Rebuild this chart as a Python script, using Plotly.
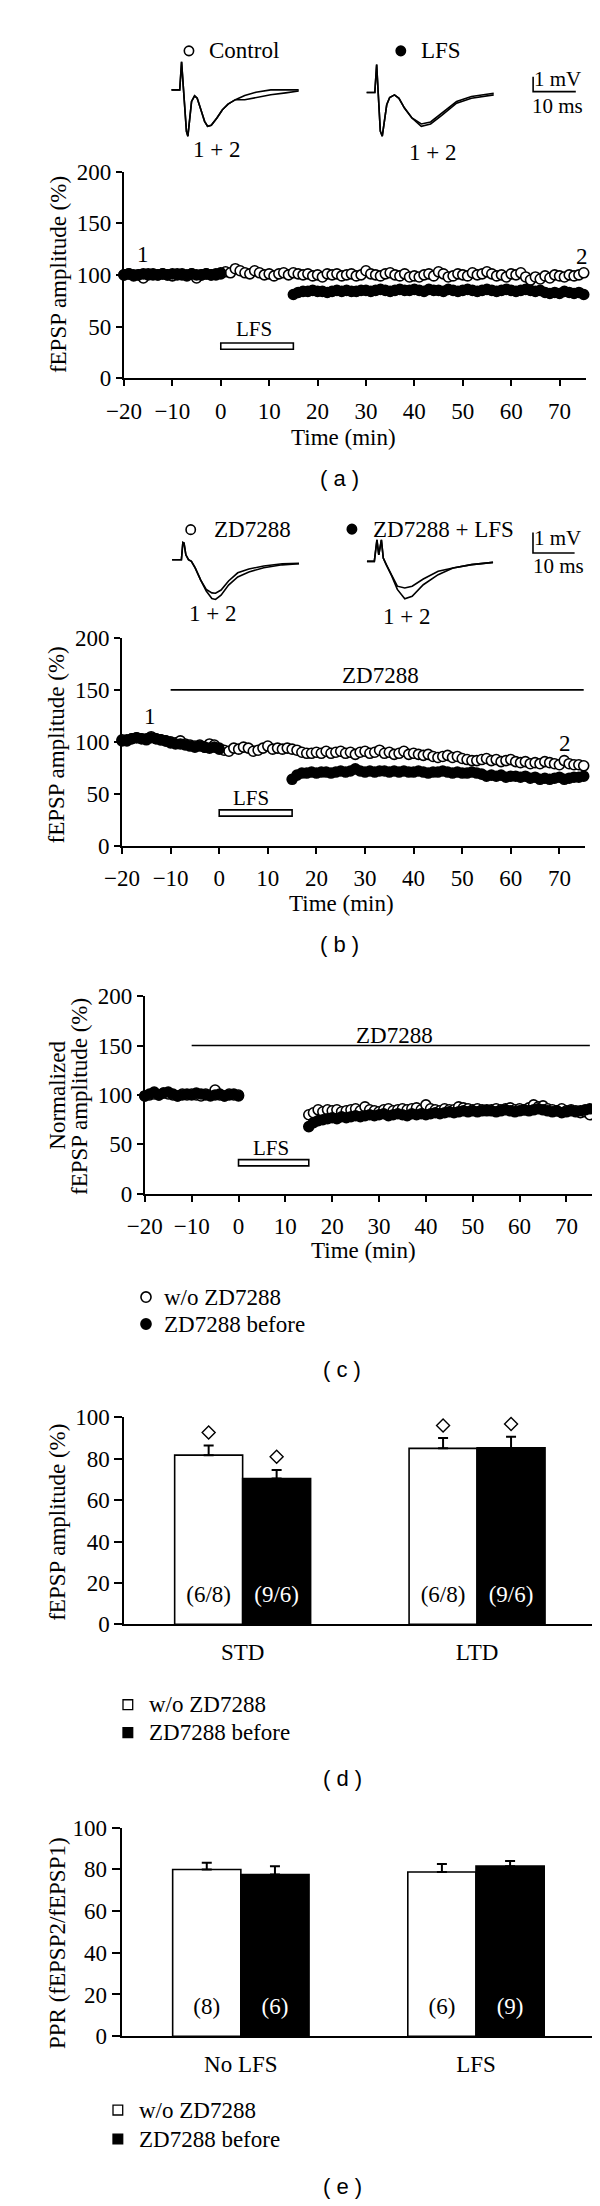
import plotly.graph_objects as go

W, H = 600, 2206
SERIF = "Liberation Serif"
SANS = "Liberation Sans"

# ---------------- data ----------------
TIME_ALL = list(range(-20, 76))      # one sample per minute
TIME_BASE = list(range(-20, 1))
TIME_POST = list(range(15, 76))
LFS_PERIOD = [0, 15]
ZD_PERIOD = [-10, 75]

# (a) Control (open) and LFS (filled)
A_CONTROL = [100, 101, 99, 100, 97, 101, 100, 100, 101, 100,
             99, 101, 100, 99, 101, 97, 100, 101, 100, 100,
             101, 103, 102, 106, 104, 102, 101, 104, 102, 100,
             101, 99, 101, 102, 100, 102, 101, 100, 101, 99,
             100, 98, 101, 100, 101, 99, 100, 101, 99, 100,
             104, 101, 100, 99, 101, 102, 100, 99, 101, 98,
             99, 98, 100, 101, 99, 103, 101, 98, 99, 101,
             100, 99, 102, 100, 101, 103, 101, 99, 100, 98,
             101, 100, 102, 98, 95, 98, 96, 99, 97, 100,
             99, 98, 100, 99, 100, 102]
A_LFS_BASE = [100, 101, 100, 100, 101, 100, 101, 100, 101, 100, 101,
              100, 101, 100, 101, 100, 100, 101, 100, 101, 102]
A_LFS_POST = [81, 83, 84, 84, 85, 84, 84, 83, 84, 85,
              84, 85, 84, 84, 85, 85, 84, 85, 86, 85,
              84, 85, 86, 85, 85, 86, 85, 84, 86, 85,
              85, 84, 86, 85, 84, 85, 86, 85, 84, 85,
              86, 85, 84, 85, 86, 85, 84, 85, 86, 85,
              84, 85, 83, 82, 83, 82, 84, 83, 82, 83,
              81]

# (b) ZD7288 (open) and ZD7288 + LFS (filled)
B_ZD = [102, 101, 103, 104, 103, 102, 105, 103, 102, 101,
        100, 99, 101, 98, 97, 96, 97, 95, 98, 97,
        94, 92, 91, 94, 93, 95, 94, 91, 92, 94,
        96, 93, 94, 93, 94, 93, 92, 90, 89, 89,
        90, 89, 91, 89, 90, 91, 89, 90, 88, 90,
        91, 89, 90, 92, 89, 90, 88, 89, 91, 88,
        89, 88, 87, 88, 86, 85, 86, 87, 85, 86,
        84, 83, 82, 82, 83, 84, 82, 83, 81, 82,
        83, 81, 80, 81, 79, 80, 79, 81, 80, 79,
        78, 82, 79, 78, 78, 77]
B_ZDLFS_BASE = [101, 102, 103, 104, 103, 103, 104, 103, 102, 101, 99,
                98, 98, 97, 96, 95, 96, 95, 94, 95, 93]
B_ZDLFS_POST = [64, 68, 70, 70, 71, 70, 71, 71, 70, 71,
                72, 71, 72, 74, 72, 71, 72, 71, 72, 72,
                71, 72, 71, 72, 71, 71, 72, 71, 70, 71,
                71, 72, 71, 70, 71, 70, 70, 71, 70, 69,
                67, 68, 67, 68, 66, 67, 67, 66, 67, 65,
                66, 64, 65, 64, 65, 66, 64, 65, 66, 66,
                67]

# (c) w/o ZD7288 (open) and ZD7288 before (filled)
C_WO_BASE = [99, 100, 101, 100, 102, 101, 100, 99, 101, 100, 101,
             100, 99, 101, 100, 105, 100, 99, 101, 100, 100]
C_WO_POST = [80, 82, 85, 83, 85, 84, 85, 83, 84, 85,
             86, 84, 88, 85, 84, 83, 85, 86, 84, 85,
             86, 85, 86, 87, 85, 90, 86, 85, 84, 86,
             85, 85, 88, 87, 86, 85, 86, 85, 84, 85,
             86, 85, 86, 87, 85, 86, 85, 87, 90, 88,
             89, 86, 85, 84, 86, 84, 85, 84, 82, 83,
             80]
C_ZD_BASE = [99, 101, 103, 100, 102, 103, 101, 99, 100, 101, 100,
             102, 101, 100, 99, 100, 101, 99, 100, 101, 99]
C_ZD_POST = [68, 72, 74, 75, 76, 77, 76, 78, 77, 78,
             79, 78, 79, 80, 79, 80, 81, 79, 80, 81,
             80, 79, 81, 80, 81, 80, 81, 82, 81, 82,
             83, 82, 83, 84, 83, 84, 83, 84, 85, 84,
             83, 84, 85, 84, 83, 84, 85, 84, 85, 86,
             85, 84, 83, 84, 82, 83, 84, 83, 84, 85,
             86]

# sample fEPSP recordings (ms, mV relative to baseline); 1 = before, 2 = end
A_TR1_T = [0, 1.93, 2.36, 2.89, 3.5, 3.84, 4.18, 4.7, 5.41, 6.02, 6.89, 7.75,
           8.45, 9.32, 10.64, 11.93, 13.25, 14.98, 17.16, 19.77, 23.25, 26.75, 29.8]
A_TR1_V1 = [0, 0, 1.89, -0.56, -2.79, -3.12, -2.34, -0.78, -0.4, -0.56, -1.34, -2.12,
            -2.45, -2.39, -1.89, -1.34, -0.96, -0.66, -0.38, -0.16, 0, 0.02, 0]
A_TR1_V2 = [0, 0, 1.89, -0.56, -2.79, -3.12, -2.34, -0.78, -0.4, -0.56, -1.34, -2.12,
            -2.45, -2.39, -1.89, -1.34, -0.96, -0.66, -0.66, -0.51, -0.33, -0.2, -0.07]
A_TR2_T = [0, 1.91, 2.34, 2.77, 3.2, 3.66, 4.09, 4.7, 5.39, 6.52, 7.57, 8.86,
           10.61, 12.8, 14.98, 17.59, 21.07, 24.55, 29.77]
A_TR2_V1 = [0, 0, 1.89, -0.61, -2.61, -2.95, -2.17, -0.83, -0.34, -0.16, -0.39, -1.05,
            -1.72, -2.28, -2.12, -1.55, -0.72, -0.39, -0.16]
A_TR2_V2 = [0, 0, 1.89, -0.61, -2.61, -2.95, -2.17, -0.83, -0.34, -0.16, -0.39, -1.05,
            -1.72, -2.12, -1.99, -1.39, -0.61, -0.27, -0.05]
B_TR1_T = [0, 2.24, 2.59, 2.87, 3.31, 3.94, 4.64, 5.55, 6.88, 8.21, 9.56, 10.44,
           11.77, 13.57, 15.78, 18.46, 22.03, 26.48, 30.51]
B_TR1_V1 = [0, 0, 0.84, 0.81, 0.24, 0, -0.08, -0.40, -1.0, -1.53, -1.90, -1.94,
            -1.73, -1.24, -0.84, -0.60, -0.39, -0.25, -0.20]
B_TR1_V2 = [0, 0, 0.84, 0.81, 0.24, 0, -0.08, -0.40, -1.0, -1.45, -1.62, -1.64,
            -1.48, -1.04, -0.64, -0.45, -0.31, -0.20, -0.18]
B_TR2_T = [0, 1.77, 2.40, 2.84, 3.47, 3.92, 4.64, 5.97, 7.30, 9.09, 10.86, 13.54,
           17.11, 20.68, 25.13, 30.30]
B_TR2_V1 = [0, 0, 1.05, 0.32, 1.05, 0.16, -0.16, -0.72, -1.37, -1.83, -1.70, -1.14,
            -0.65, -0.32, -0.16, -0.05]
B_TR2_V2 = [0, 0, 1.05, 0.32, 1.05, 0.16, -0.16, -0.72, -1.21, -1.30, -1.21, -0.86,
            -0.48, -0.32, -0.16, -0.05]
SCALE_MS = 10
SCALE_MV = 1

# (d) depression summary
D_GROUPS = ["STD", "LTD"]
D_CTRL = [81.7, 85.0]
D_CTRL_ERR = [4.7, 5.0]
D_ZD = [70.4, 85.2]
D_ZD_ERR = [4.1, 5.4]
D_CTRL_SIG = [92.7, 96.0]
D_ZD_SIG = [80.9, 96.8]
D_CTRL_N = ["(6/8)", "(6/8)"]
D_ZD_N = ["(9/6)", "(9/6)"]

# (e) paired-pulse ratio
E_GROUPS = ["No LFS", "LFS"]
E_CTRL = [79.9, 78.7]
E_CTRL_ERR = [3.2, 3.8]
E_ZD = [77.5, 81.5]
E_ZD_ERR = [4.0, 2.5]
E_CTRL_N = ["(8)", "(6)"]
E_ZD_N = ["(6)", "(9)"]

# ---------------- layout helpers ----------------
def dx(l, r):
    return [l / W, r / W]


def dy(t, b):
    return [1 - b / H, 1 - t / H]


FS_TICK = 23
FS_TEXT = 23
FS_PANEL = 22
TICKFONT = dict(family=SERIF, size=FS_TICK, color="black")
AX = dict(showline=True, linecolor="black", linewidth=2, ticks="outside", ticklen=6,
          tickwidth=2, tickcolor="black", showgrid=False, zeroline=False,
          tickfont=TICKFONT, fixedrange=True)

fig = go.Figure()
layout = {}
annotations = []
shapes = []


def ann(text, xp, yp, size=FS_TEXT, family=SERIF, xanchor="center", angle=0, color="black"):
    annotations.append(dict(text=text, x=xp / W, y=1 - yp / H, xref="paper", yref="paper",
                            xanchor=xanchor, yanchor="middle", showarrow=False,
                            textangle=angle, font=dict(family=family, size=size, color=color)))


def paper_circle(xp, yp, r, filled):
    shapes.append(dict(type="circle", xref="paper", yref="paper",
                       x0=(xp - r) / W, x1=(xp + r) / W, y0=1 - (yp + r) / H, y1=1 - (yp - r) / H,
                       line=dict(color="black", width=1.6),
                       fillcolor="black" if filled else "white"))


def paper_square(xp, yp, r, filled):
    shapes.append(dict(type="rect", xref="paper", yref="paper",
                       x0=(xp - r) / W, x1=(xp + r) / W, y0=1 - (yp + r) / H, y1=1 - (yp - r) / H,
                       line=dict(color="black", width=1.3),
                       fillcolor="black" if filled else "white"))


def time_axes(xname, yname, xl, xr, yt, yb, xmax):
    layout[xname] = dict(AX, domain=dx(xl, xr), range=[-20, xmax],
                         anchor=yname.replace("axis", ""),
                         tickvals=list(range(-20, 71, 10)), ticklabelstandoff=5)
    layout[yname] = dict(AX, domain=dy(yt, yb), range=[0, 200],
                         anchor=xname.replace("axis", ""),
                         tickvals=[0, 50, 100, 150, 200])


def series(n, x, y, filled):
    fig.add_trace(go.Scatter(
        x=x, y=y, mode="markers", xaxis=f"x{n}", yaxis=f"y{n}", cliponaxis=False,
        marker=dict(size=10, color="black" if filled else "white",
                    line=dict(color="black", width=1.6)), hoverinfo="skip"))


def lfs_box(n, y0, y1):
    shapes.append(dict(type="rect", xref=f"x{n}", yref=f"y{n}", x0=LFS_PERIOD[0], x1=LFS_PERIOD[1],
                       y0=y0, y1=y1, line=dict(color="black", width=1.6), fillcolor="white"))


def zd_line(n, y):
    shapes.append(dict(type="line", xref=f"x{n}", yref=f"y{n}", x0=ZD_PERIOD[0], x1=ZD_PERIOD[1],
                       y0=y, y1=y, line=dict(color="black", width=1.6)))


def inset(n, x0, y0, ppms, ppmv, box):
    l, t, r, b = box
    layout[f"xaxis{n}"] = dict(visible=False, domain=dx(l, r), anchor=f"y{n}",
                               range=[(l - x0) / ppms, (r - x0) / ppms], fixedrange=True)
    layout[f"yaxis{n}"] = dict(visible=False, domain=dy(t, b), anchor=f"x{n}",
                               range=[(y0 - b) / ppmv, (y0 - t) / ppmv], fixedrange=True)


def rec(n, t, v):
    fig.add_trace(go.Scatter(x=t, y=v, mode="lines", xaxis=f"x{n}", yaxis=f"y{n}",
                             line=dict(color="black", width=1.6), hoverinfo="skip"))


def scale_bar(n, t0, v0):
    shapes.append(dict(type="path", xref=f"x{n}", yref=f"y{n}",
                       path=f"M {t0},{v0 + SCALE_MV} L {t0},{v0} L {t0 + SCALE_MS},{v0}",
                       line=dict(color="black", width=1.6)))


# ---------------- panel (a) ----------------
time_axes("xaxis", "yaxis", 101, 577, 153.3, 362.3, 75.4)
series("", TIME_ALL, A_CONTROL, False)
series("", TIME_BASE + TIME_POST, A_LFS_BASE + A_LFS_POST, True)
lfs_box("", 28, 34)
ann("LFS", 235, 313, size=21)
ann("1", 121, 237)
ann("2", 572.7, 239)
ann("Time (min)", 327, 422)
ann("fEPSP amplitude (%)", 33, 258, angle=-90)
ann("( a )", 323, 464, size=FS_PANEL, family=SANS)

inset(6, 150, 70.7, 4.4, 15, (145, 35, 290, 125))
rec(6, A_TR1_T, A_TR1_V1)
rec(6, A_TR1_T, A_TR1_V2)
inset(7, 351.2, 73.3, 4.4, 15, (345, 35, 578, 125))
rec(7, A_TR2_T, A_TR2_V1)
rec(7, A_TR2_T, A_TR2_V2)
scale_bar(7, 39.0, 0.06)
paper_circle(168, 31.2, 4.8, False)
ann("Control", 187, 31.2, xanchor="left")
paper_circle(386.4, 31.2, 4.8, True)
ann("LFS", 404.8, 31.2, xanchor="left")
ann("1 mV", 548, 59.7, size=21)
ann("10 ms", 548.3, 87.4, size=21)
ann("1 + 2", 196.8, 131)
ann("1 + 2", 419, 134)

# ---------------- panel (b) ----------------
time_axes("xaxis2", "yaxis2", 99, 576.7, 625, 835.3, 75.35)
series(2, TIME_ALL, B_ZD, False)
series(2, TIME_BASE + TIME_POST, B_ZDLFS_BASE + B_ZDLFS_POST, True)
lfs_box(2, 28.6, 34.6)
zd_line(2, 150)
ann("ZD7288", 365, 663.3)
ann("1", 127.7, 704.3)
ann("2", 556, 731.7)
ann("LFS", 232.3, 786.7, size=21)
ann("Time (min)", 325, 894)
ann("fEPSP amplitude (%)", 31.7, 733, angle=-90)
ann("( b )", 323, 935, size=FS_PANEL, family=SANS)

inset(8, 150.6, 545.9, 4.29, 20.7, (145, 505, 290, 595))
rec(8, B_TR1_T, B_TR1_V1)
rec(8, B_TR1_T, B_TR1_V2)
inset(9, 351.5, 547.6, 4.29, 20.7, (345, 505, 578, 595))
rec(9, B_TR2_T, B_TR2_V1)
rec(9, B_TR2_T, B_TR2_V2)
scale_bar(9, 39.9, 0.41)
paper_circle(169.8, 515.5, 4.8, False)
ann("ZD7288", 191.6, 515.5, xanchor="left")
paper_circle(336, 515, 4.8, True)
ann("ZD7288 + LFS", 356, 515, xanchor="left")
ann("1 mV", 548, 524.2, size=21)
ann("10 ms", 549, 551.9, size=21)
ann("1 + 2", 192.7, 600)
ann("1 + 2", 392.4, 603.5)

# ---------------- panel (c) ----------------
time_axes("xaxis3", "yaxis3", 122.5, 583.7, 987.3, 1187.3, 75.5)
series(3, TIME_BASE + TIME_POST, C_WO_BASE + C_WO_POST, False)
series(3, TIME_BASE + TIME_POST, C_ZD_BASE + C_ZD_POST, True)
lfs_box(3, 28.3, 34.6)
zd_line(3, 150)
ann("ZD7288", 380, 1027.3)
ann("LFS", 253, 1140.7, size=21)
ann("Time (min)", 348, 1245)
ann("Normalized", 33, 1088, angle=-90)
ann("fEPSP amplitude (%)", 55, 1089, angle=-90)
paper_circle(123.7, 1291.7, 5.2, False)
ann("w/o ZD7288", 140, 1291.7, xanchor="left")
paper_circle(123.7, 1319, 5.2, True)
ann("ZD7288 before", 140, 1319, xanchor="left")
ann("( c )", 326, 1365, size=FS_PANEL, family=SANS)

# ---------------- bar panels ----------------
BAR_W = 0.29


def bar_panel(n, xl, xr, yt, yb, xrange_, groups, ctrl, ctrl_err, zd, zd_err,
              ctrl_n, zd_n, ctrl_sig=None, zd_sig=None):
    idx = list(range(len(groups)))
    xc = [i - BAR_W / 2 for i in idx]
    xz = [i + BAR_W / 2 for i in idx]
    layout[f"xaxis{n}"] = dict(AX, domain=dx(xl, xr), range=xrange_, anchor=f"y{n}",
                               tickvals=idx, ticktext=groups, ticks="", ticklabelstandoff=6)
    layout[f"yaxis{n}"] = dict(AX, domain=dy(yt, yb), range=[0, 100], anchor=f"x{n}",
                               tickvals=[0, 20, 40, 60, 80, 100], ticklen=8)
    for xs, vals, errs, col in ((xc, ctrl, ctrl_err, "white"), (xz, zd, zd_err, "black")):
        fig.add_trace(go.Bar(
            x=xs, y=vals, width=BAR_W, xaxis=f"x{n}", yaxis=f"y{n}",
            marker=dict(color=col, line=dict(color="black", width=1.6)),
            error_y=dict(type="data", array=errs, arrayminus=[0] * len(errs), symmetric=False,
                         color="black", thickness=2, width=5),
            hoverinfo="skip"))
    fig.add_trace(go.Scatter(x=xc, y=[13.5] * len(idx), mode="text", text=ctrl_n,
                             xaxis=f"x{n}", yaxis=f"y{n}", hoverinfo="skip",
                             textfont=dict(family=SERIF, size=FS_TEXT, color="black")))
    fig.add_trace(go.Scatter(x=xz, y=[13.5] * len(idx), mode="text", text=zd_n,
                             xaxis=f"x{n}", yaxis=f"y{n}", hoverinfo="skip",
                             textfont=dict(family=SERIF, size=FS_TEXT, color="white")))
    if ctrl_sig is not None:
        fig.add_trace(go.Scatter(x=xc + xz, y=ctrl_sig + zd_sig, mode="markers",
                                 xaxis=f"x{n}", yaxis=f"y{n}", hoverinfo="skip", cliponaxis=False,
                                 marker=dict(symbol="diamond-open", size=10, color="black",
                                             line=dict(width=1.4, color="black"))))


bar_panel(4, 101.3, 585.6, 1413.3, 1622.7, [-0.505, 1.499], D_GROUPS, D_CTRL, D_CTRL_ERR,
          D_ZD, D_ZD_ERR, D_CTRL_N, D_ZD_N, D_CTRL_SIG, D_ZD_SIG)
ann("fEPSP amplitude (%)", 33, 1520, angle=-90)
paper_square(105, 1704, 5, False)
ann("w/o ZD7288", 124.5, 1704, xanchor="left")
paper_square(105, 1732.3, 5, True)
ann("ZD7288 before", 124.5, 1732.3, xanchor="left")
ann("( d )", 326, 1778.3, size=FS_PANEL, family=SANS)

bar_panel(5, 98.6, 585.6, 1828.3, 2039.3, [-0.507, 1.502], E_GROUPS, E_CTRL, E_CTRL_ERR,
          E_ZD, E_ZD_ERR, E_CTRL_N, E_ZD_N)
ann("PPR (fEPSP2/fEPSP1)", 33, 1945, angle=-90)
paper_square(94.7, 2114, 5, False)
ann("w/o ZD7288", 114, 2114, xanchor="left")
paper_square(94.7, 2143.3, 5, True)
ann("ZD7288 before", 114, 2143.3, xanchor="left")
ann("( e )", 326, 2191.7, size=FS_PANEL, family=SANS)

fig.update_layout(
    width=W, height=H, margin=dict(l=0, r=0, t=0, b=0),
    paper_bgcolor="white", plot_bgcolor="rgba(0,0,0,0)",
    showlegend=False, barmode="overlay",
    annotations=annotations, shapes=shapes, **layout)

fig.write_html("out.html")
